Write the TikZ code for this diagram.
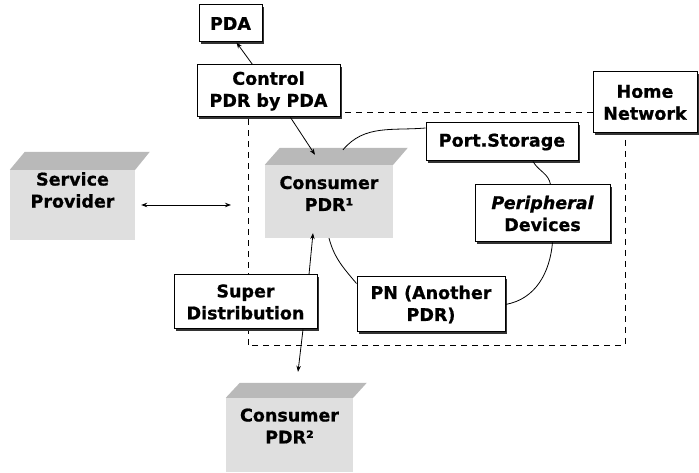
\documentclass[tikz,border=0pt]{standalone}
\usepackage{fontspec}
\setmainfont{DejaVu Sans}[BoldFeatures={FakeBold=0.8}, BoldItalicFeatures={FakeBold=0.8}]
\usetikzlibrary{shadows,arrows.meta}

\begin{document}
\begin{tikzpicture}[x=1pt,y=1pt,>={Stealth[length=6pt,width=4.5pt]},
	box/.style={draw, line width=1pt, fill=white, align=center, inner sep=2pt,
		font=\fontsize{17.5}{22}\selectfont\bfseries,
		drop shadow={shadow xshift=1.6pt, shadow yshift=-1.6pt, opacity=1, fill=black!80}},
	front/.style={fill=gray!25, inner sep=0pt},
	top/.style={fill=gray!55},
	txt/.style={align=center, font=\fontsize{17.5}{22}\selectfont\bfseries},
	link/.style={line width=0.8pt}]
	\useasboundingbox (0,0) rectangle (699,473);
	% home network area
	\draw[dash pattern=on 6pt off 5pt, line width=0.7pt] (248,128) rectangle (625,361);
	% plain boxes
	\node[box, minimum width=63pt, minimum height=37pt] (pda) at (230.5,449.5) {PDA};
	\node[box, minimum width=143pt, minimum height=52pt] (ctrl) at (268.5,382) {Control\\PDR by PDA};
	\node[box, minimum width=104pt, minimum height=61pt] (home) at (645,370.5) {Home\\Network};
	\node[box, minimum width=152pt, minimum height=38pt] (port) at (502,331) {Port.Storage};
	\node[box, minimum width=135pt, minimum height=57pt] (periph) at (542.5,259.5) {\itshape Peripheral\\Devices};
	\node[box, minimum width=148pt, minimum height=55pt] (pn) at (431,168.5) {PN (Another\\PDR)};
	\node[box, minimum width=143pt, minimum height=54pt] (super) at (245.5,171) {Super\\Distribution};
	% shaded boxes
	\node[front, minimum width=125pt, minimum height=70pt] (sp) at (72.5,268) {};
	\fill[top] (sp.north west) -- ++(15,18) -- ++(125,0) -- (sp.north east) -- cycle;
	\node[txt] (sptxt) at ([yshift=15pt]sp.center) {Service\\Provider};
	\node[front, minimum width=128pt, minimum height=73pt] (pdrA) at (329,271.5) {};
	\fill[top] (pdrA.north west) -- ++(15,17) -- ++(128,0) -- (pdrA.north east) -- cycle;
	\node[txt] (pdrAtxt) at ([yshift=8pt]pdrA.center) {Consumer\\PDR¹};
	\node[front, minimum width=127pt, minimum height=74pt] (pdrB) at (289.5,38) {};
	\fill[top] (pdrB.north west) -- ++(14,15) -- ++(127,0) -- (pdrB.north east) -- cycle;
	\node[txt] (pdrBtxt) at ([yshift=9pt]pdrB.center) {Consumer\\PDR²};
	\coordinate (net) at (231,268);
	% arrows
	\draw[link,->] ([xshift=-16pt]ctrl.north) -- ([xshift=6pt]pda.south);
	\draw[link,->] ([xshift=22pt]ctrl.south) -- ([shift={(-14pt,10pt)}]pdrA.north);
	\draw[link,<->] ([xshift=6pt]sp.east) -- (net);
	\draw[link,->] ([xshift=63.5pt]super.north) -- ([shift={(-16pt,5pt)}]pdrA.south);
	\draw[link,->] ([xshift=57.5pt]super.south) -- ([shift={(8.5pt,26pt)}]pdrB.north);
	% ring of devices
	\draw[link] ([shift={(14pt,15pt)}]pdrA.north) to[out=50,in=185] ([yshift=14pt]port.west);
	\draw[link] ([xshift=31pt]port.south) to[out=-60,in=100] ([xshift=8pt]periph.north);
	\draw[link] ([xshift=10pt]periph.south) to[out=-95,in=10] ([yshift=0pt]pn.east);
	\draw[link] ([yshift=21pt]pn.west) to[out=130,in=-75] (pdrA.south);
\end{tikzpicture}
\end{document}
